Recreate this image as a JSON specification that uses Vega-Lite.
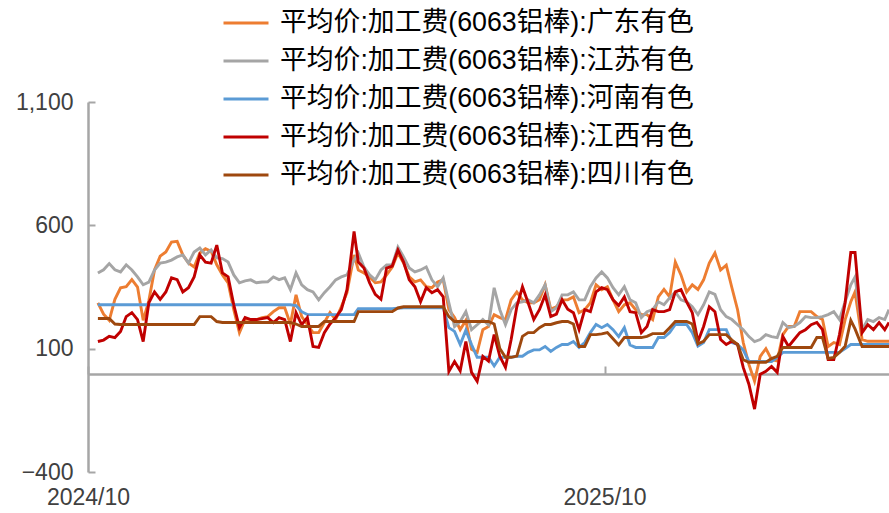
{
  "$schema": "https://vega.github.io/schema/vega-lite/v6.json",
  "width": 801,
  "height": 370,
  "autosize": {"type": "none"},
  "padding": {"left": 88, "top": 102, "right": 0, "bottom": 41},
  "background": "white",
  "config": {"view": {"stroke": null}, "font": "Liberation Sans"},
  "data": {
    "values": [
      {"d": "2024-10-08", "gd": 286, "js": 407, "hn": 278, "jx": 129, "sc": 222},
      {"d": "2024-10-12", "gd": 240, "js": 420, "hn": 278, "jx": 135, "sc": 222},
      {"d": "2024-10-16", "gd": 215, "js": 445, "hn": 278, "jx": 150, "sc": 222},
      {"d": "2024-10-20", "gd": 300, "js": 420, "hn": 278, "jx": 145, "sc": 200},
      {"d": "2024-10-24", "gd": 347, "js": 411, "hn": 278, "jx": 170, "sc": 198},
      {"d": "2024-10-28", "gd": 351, "js": 440, "hn": 278, "jx": 230, "sc": 198},
      {"d": "2024-11-01", "gd": 380, "js": 419, "hn": 278, "jx": 246, "sc": 198},
      {"d": "2024-11-05", "gd": 350, "js": 391, "hn": 278, "jx": 218, "sc": 198},
      {"d": "2024-11-09", "gd": 215, "js": 359, "hn": 278, "jx": 129, "sc": 198},
      {"d": "2024-11-13", "gd": 295, "js": 370, "hn": 278, "jx": 286, "sc": 198},
      {"d": "2024-11-17", "gd": 419, "js": 419, "hn": 278, "jx": 330, "sc": 198},
      {"d": "2024-11-21", "gd": 475, "js": 447, "hn": 278, "jx": 300, "sc": 198},
      {"d": "2024-11-25", "gd": 492, "js": 451, "hn": 278, "jx": 330, "sc": 198},
      {"d": "2024-11-29", "gd": 532, "js": 459, "hn": 278, "jx": 387, "sc": 198},
      {"d": "2024-12-03", "gd": 535, "js": 472, "hn": 278, "jx": 380, "sc": 198},
      {"d": "2024-12-07", "gd": 480, "js": 480, "hn": 278, "jx": 330, "sc": 198},
      {"d": "2024-12-11", "gd": 447, "js": 447, "hn": 278, "jx": 347, "sc": 198},
      {"d": "2024-12-15", "gd": 431, "js": 492, "hn": 278, "jx": 391, "sc": 198},
      {"d": "2024-12-19", "gd": 488, "js": 508, "hn": 278, "jx": 480, "sc": 230},
      {"d": "2024-12-23", "gd": 505, "js": 480, "hn": 278, "jx": 451, "sc": 230},
      {"d": "2024-12-27", "gd": 495, "js": 500, "hn": 278, "jx": 447, "sc": 230},
      {"d": "2024-12-31", "gd": 440, "js": 468, "hn": 278, "jx": 520, "sc": 210},
      {"d": "2025-01-04", "gd": 399, "js": 465, "hn": 278, "jx": 407, "sc": 206},
      {"d": "2025-01-08", "gd": 367, "js": 451, "hn": 278, "jx": 391, "sc": 206},
      {"d": "2025-01-12", "gd": 258, "js": 399, "hn": 278, "jx": 278, "sc": 206},
      {"d": "2025-01-16", "gd": 165, "js": 367, "hn": 278, "jx": 185, "sc": 206},
      {"d": "2025-01-20", "gd": 220, "js": 375, "hn": 278, "jx": 226, "sc": 206},
      {"d": "2025-01-24", "gd": 218, "js": 379, "hn": 278, "jx": 218, "sc": 206},
      {"d": "2025-01-28", "gd": 218, "js": 367, "hn": 278, "jx": 218, "sc": 206},
      {"d": "2025-02-01", "gd": 226, "js": 370, "hn": 278, "jx": 222, "sc": 206},
      {"d": "2025-02-05", "gd": 230, "js": 371, "hn": 278, "jx": 226, "sc": 206},
      {"d": "2025-02-09", "gd": 250, "js": 391, "hn": 278, "jx": 206, "sc": 206},
      {"d": "2025-02-13", "gd": 266, "js": 380, "hn": 278, "jx": 226, "sc": 206},
      {"d": "2025-02-17", "gd": 266, "js": 387, "hn": 278, "jx": 218, "sc": 206},
      {"d": "2025-02-21", "gd": 200, "js": 339, "hn": 278, "jx": 129, "sc": 206},
      {"d": "2025-02-25", "gd": 318, "js": 407, "hn": 275, "jx": 246, "sc": 200},
      {"d": "2025-03-01", "gd": 230, "js": 359, "hn": 250, "jx": 197, "sc": 190},
      {"d": "2025-03-05", "gd": 198, "js": 339, "hn": 238, "jx": 226, "sc": 190},
      {"d": "2025-03-09", "gd": 165, "js": 330, "hn": 238, "jx": 109, "sc": 190},
      {"d": "2025-03-13", "gd": 165, "js": 298, "hn": 238, "jx": 105, "sc": 190},
      {"d": "2025-03-17", "gd": 206, "js": 327, "hn": 238, "jx": 165, "sc": 210},
      {"d": "2025-03-21", "gd": 246, "js": 351, "hn": 238, "jx": 200, "sc": 210},
      {"d": "2025-03-25", "gd": 218, "js": 379, "hn": 238, "jx": 226, "sc": 210},
      {"d": "2025-03-29", "gd": 270, "js": 391, "hn": 238, "jx": 258, "sc": 210},
      {"d": "2025-04-02", "gd": 327, "js": 399, "hn": 238, "jx": 339, "sc": 210},
      {"d": "2025-04-07", "gd": 480, "js": 459, "hn": 238, "jx": 575, "sc": 210},
      {"d": "2025-04-10", "gd": 419, "js": 488, "hn": 262, "jx": 451, "sc": 250},
      {"d": "2025-04-14", "gd": 407, "js": 431, "hn": 262, "jx": 427, "sc": 250},
      {"d": "2025-04-18", "gd": 391, "js": 399, "hn": 262, "jx": 367, "sc": 250},
      {"d": "2025-04-22", "gd": 367, "js": 379, "hn": 262, "jx": 320, "sc": 250},
      {"d": "2025-04-26", "gd": 371, "js": 419, "hn": 262, "jx": 300, "sc": 250},
      {"d": "2025-04-30", "gd": 399, "js": 439, "hn": 262, "jx": 427, "sc": 250},
      {"d": "2025-05-04", "gd": 431, "js": 439, "hn": 262, "jx": 435, "sc": 250},
      {"d": "2025-05-08", "gd": 488, "js": 512, "hn": 264, "jx": 500, "sc": 265},
      {"d": "2025-05-12", "gd": 447, "js": 472, "hn": 266, "jx": 451, "sc": 270},
      {"d": "2025-05-16", "gd": 391, "js": 427, "hn": 266, "jx": 379, "sc": 270},
      {"d": "2025-05-20", "gd": 371, "js": 411, "hn": 266, "jx": 351, "sc": 270},
      {"d": "2025-05-24", "gd": 379, "js": 419, "hn": 266, "jx": 290, "sc": 270},
      {"d": "2025-05-28", "gd": 351, "js": 431, "hn": 266, "jx": 347, "sc": 270},
      {"d": "2025-06-01", "gd": 347, "js": 379, "hn": 266, "jx": 327, "sc": 270},
      {"d": "2025-06-05", "gd": 370, "js": 351, "hn": 266, "jx": 339, "sc": 270},
      {"d": "2025-06-09", "gd": 379, "js": 387, "hn": 266, "jx": 310, "sc": 270},
      {"d": "2025-06-13", "gd": 258, "js": 286, "hn": 185, "jx": 8, "sc": 230},
      {"d": "2025-06-17", "gd": 226, "js": 190, "hn": 170, "jx": 48, "sc": 210},
      {"d": "2025-06-21", "gd": 177, "js": 210, "hn": 117, "jx": 10, "sc": 210},
      {"d": "2025-06-25", "gd": 215, "js": 250, "hn": 175, "jx": 129, "sc": 210},
      {"d": "2025-06-29", "gd": 97, "js": 177, "hn": 117, "jx": 4, "sc": 210},
      {"d": "2025-07-03", "gd": 85, "js": 197, "hn": 65, "jx": -32, "sc": 210},
      {"d": "2025-07-07", "gd": 177, "js": 218, "hn": 65, "jx": 69, "sc": 210},
      {"d": "2025-07-11", "gd": 190, "js": 197, "hn": 65, "jx": 50, "sc": 210},
      {"d": "2025-07-15", "gd": 238, "js": 347, "hn": 30, "jx": 157, "sc": 200},
      {"d": "2025-07-19", "gd": 226, "js": 258, "hn": 65, "jx": 69, "sc": 100},
      {"d": "2025-07-23", "gd": 218, "js": 197, "hn": 65, "jx": 24, "sc": 65},
      {"d": "2025-07-27", "gd": 298, "js": 258, "hn": 65, "jx": 137, "sc": 65},
      {"d": "2025-07-31", "gd": 330, "js": 286, "hn": 69, "jx": 270, "sc": 70},
      {"d": "2025-08-04", "gd": 298, "js": 290, "hn": 69, "jx": 351, "sc": 150},
      {"d": "2025-08-08", "gd": 286, "js": 298, "hn": 85, "jx": 286, "sc": 165},
      {"d": "2025-08-12", "gd": 286, "js": 286, "hn": 95, "jx": 218, "sc": 165},
      {"d": "2025-08-16", "gd": 298, "js": 318, "hn": 95, "jx": 258, "sc": 185},
      {"d": "2025-08-20", "gd": 359, "js": 359, "hn": 109, "jx": 318, "sc": 198},
      {"d": "2025-08-24", "gd": 260, "js": 250, "hn": 89, "jx": 230, "sc": 198},
      {"d": "2025-08-28", "gd": 270, "js": 266, "hn": 105, "jx": 240, "sc": 205},
      {"d": "2025-09-01", "gd": 298, "js": 318, "hn": 117, "jx": 298, "sc": 210},
      {"d": "2025-09-05", "gd": 298, "js": 318, "hn": 117, "jx": 260, "sc": 210},
      {"d": "2025-09-09", "gd": 310, "js": 330, "hn": 129, "jx": 246, "sc": 200},
      {"d": "2025-09-13", "gd": 246, "js": 298, "hn": 105, "jx": 177, "sc": 109},
      {"d": "2025-09-17", "gd": 258, "js": 298, "hn": 125, "jx": 258, "sc": 109},
      {"d": "2025-09-21", "gd": 286, "js": 351, "hn": 165, "jx": 250, "sc": 157},
      {"d": "2025-09-25", "gd": 359, "js": 387, "hn": 198, "jx": 330, "sc": 157},
      {"d": "2025-09-29", "gd": 339, "js": 411, "hn": 185, "jx": 347, "sc": 160},
      {"d": "2025-10-03", "gd": 351, "js": 387, "hn": 198, "jx": 339, "sc": 165},
      {"d": "2025-10-07", "gd": 298, "js": 347, "hn": 177, "jx": 298, "sc": 140},
      {"d": "2025-10-11", "gd": 250, "js": 318, "hn": 149, "jx": 275, "sc": 115},
      {"d": "2025-10-15", "gd": 278, "js": 351, "hn": 185, "jx": 310, "sc": 145},
      {"d": "2025-10-19", "gd": 286, "js": 298, "hn": 115, "jx": 250, "sc": 145},
      {"d": "2025-10-23", "gd": 258, "js": 286, "hn": 105, "jx": 246, "sc": 145},
      {"d": "2025-10-27", "gd": 238, "js": 226, "hn": 105, "jx": 165, "sc": 145},
      {"d": "2025-10-31", "gd": 238, "js": 250, "hn": 105, "jx": 190, "sc": 150},
      {"d": "2025-11-04", "gd": 218, "js": 258, "hn": 105, "jx": 258, "sc": 161},
      {"d": "2025-11-08", "gd": 310, "js": 290, "hn": 145, "jx": 250, "sc": 161},
      {"d": "2025-11-12", "gd": 340, "js": 278, "hn": 145, "jx": 250, "sc": 161},
      {"d": "2025-11-16", "gd": 310, "js": 306, "hn": 165, "jx": 258, "sc": 185},
      {"d": "2025-11-20", "gd": 451, "js": 330, "hn": 198, "jx": 330, "sc": 210},
      {"d": "2025-11-24", "gd": 399, "js": 298, "hn": 198, "jx": 339, "sc": 210},
      {"d": "2025-11-28", "gd": 330, "js": 290, "hn": 198, "jx": 290, "sc": 210},
      {"d": "2025-12-02", "gd": 359, "js": 270, "hn": 165, "jx": 246, "sc": 200},
      {"d": "2025-12-06", "gd": 340, "js": 238, "hn": 110, "jx": 129, "sc": 120},
      {"d": "2025-12-10", "gd": 379, "js": 278, "hn": 125, "jx": 190, "sc": 130},
      {"d": "2025-12-14", "gd": 447, "js": 330, "hn": 177, "jx": 270, "sc": 157},
      {"d": "2025-12-18", "gd": 488, "js": 320, "hn": 177, "jx": 250, "sc": 157},
      {"d": "2025-12-22", "gd": 419, "js": 258, "hn": 177, "jx": 137, "sc": 157},
      {"d": "2025-12-26", "gd": 439, "js": 230, "hn": 177, "jx": 117, "sc": 157},
      {"d": "2025-12-30", "gd": 347, "js": 218, "hn": 125, "jx": 130, "sc": 135},
      {"d": "2026-01-03", "gd": 258, "js": 197, "hn": 117, "jx": 117, "sc": 117},
      {"d": "2026-01-07", "gd": 125, "js": 177, "hn": 95, "jx": 24, "sc": 55},
      {"d": "2026-01-11", "gd": 36, "js": 149, "hn": 48, "jx": -44, "sc": 45},
      {"d": "2026-01-15", "gd": -32, "js": 129, "hn": 48, "jx": -145, "sc": 45},
      {"d": "2026-01-19", "gd": 69, "js": 137, "hn": 48, "jx": -4, "sc": 45},
      {"d": "2026-01-23", "gd": 100, "js": 157, "hn": 48, "jx": 8, "sc": 45},
      {"d": "2026-01-27", "gd": 56, "js": 149, "hn": 48, "jx": 28, "sc": 60},
      {"d": "2026-01-31", "gd": 50, "js": 145, "hn": 65, "jx": 4, "sc": 69},
      {"d": "2026-02-04", "gd": 157, "js": 206, "hn": 85, "jx": 149, "sc": 105},
      {"d": "2026-02-08", "gd": 190, "js": 185, "hn": 85, "jx": 109, "sc": 105},
      {"d": "2026-02-12", "gd": 190, "js": 190, "hn": 85, "jx": 137, "sc": 105},
      {"d": "2026-02-16", "gd": 250, "js": 206, "hn": 85, "jx": 165, "sc": 105},
      {"d": "2026-02-20", "gd": 250, "js": 230, "hn": 85, "jx": 177, "sc": 105},
      {"d": "2026-02-24", "gd": 250, "js": 226, "hn": 85, "jx": 197, "sc": 105},
      {"d": "2026-02-28", "gd": 230, "js": 226, "hn": 85, "jx": 206, "sc": 145},
      {"d": "2026-03-04", "gd": 218, "js": 230, "hn": 85, "jx": 177, "sc": 145},
      {"d": "2026-03-08", "gd": 109, "js": 238, "hn": 85, "jx": 56, "sc": 60},
      {"d": "2026-03-12", "gd": 125, "js": 250, "hn": 85, "jx": 56, "sc": 65},
      {"d": "2026-03-16", "gd": 117, "js": 218, "hn": 85, "jx": 157, "sc": 85},
      {"d": "2026-03-20", "gd": 218, "js": 290, "hn": 100, "jx": 286, "sc": 110},
      {"d": "2026-03-24", "gd": 290, "js": 359, "hn": 117, "jx": 490, "sc": 215},
      {"d": "2026-03-27", "gd": 330, "js": 390, "hn": 117, "jx": 490, "sc": 180},
      {"d": "2026-04-01", "gd": 137, "js": 177, "hn": 117, "jx": 165, "sc": 109},
      {"d": "2026-04-05", "gd": 130, "js": 218, "hn": 117, "jx": 197, "sc": 109},
      {"d": "2026-04-09", "gd": 130, "js": 210, "hn": 117, "jx": 177, "sc": 109},
      {"d": "2026-04-13", "gd": 130, "js": 226, "hn": 117, "jx": 206, "sc": 109},
      {"d": "2026-04-17", "gd": 130, "js": 218, "hn": 117, "jx": 177, "sc": 109},
      {"d": "2026-04-20", "gd": 130, "js": 258, "hn": 117, "jx": 206, "sc": 109}
    ]
  },
  "transform": [{"fold": ["gd", "js", "hn", "jx", "sc"], "as": ["series", "value"]}],
  "mark": {"type": "line", "strokeWidth": 2.9},
  "encoding": {
    "x": {
      "field": "d",
      "type": "temporal",
      "scale": {
        "type": "utc",
        "domain": [
          {"year": 2024, "month": 10, "date": 1, "utc": true},
          {"year": 2026, "month": 4, "date": 20, "utc": true}
        ]
      },
      "axis": {
        "title": null,
        "values": [
          {"year": 2024, "month": 10, "date": 1, "utc": true},
          {"year": 2025, "month": 10, "date": 1, "utc": true}
        ],
        "labelExpr": "utcFormat(datum.value, '%Y/%m')",
        "offset": -98,
        "grid": false,
        "domainColor": "#A6A6A6",
        "domainWidth": 2.5,
        "tickColor": "#A6A6A6",
        "tickWidth": 2,
        "tickSize": -8,
        "labelPadding": 120,
        "labelFlush": false,
        "labelFont": "Liberation Sans",
        "labelFontSize": 23,
        "labelColor": "#404040"
      }
    },
    "y": {
      "field": "value",
      "type": "quantitative",
      "scale": {"domain": [-400, 1100], "nice": false, "zero": false},
      "axis": {
        "title": null,
        "values": [-400, 100, 600, 1100],
        "labelExpr": "format(datum.value, ',.0f')",
        "grid": false,
        "domainColor": "#A6A6A6",
        "domainWidth": 2.5,
        "tickColor": "#A6A6A6",
        "tickWidth": 2,
        "tickSize": -7,
        "labelPadding": 22,
        "labelFont": "Liberation Sans",
        "labelFontSize": 23,
        "labelColor": "#404040"
      }
    },
    "color": {
      "field": "series",
      "type": "nominal",
      "scale": {
        "domain": ["gd", "js", "hn", "jx", "sc"],
        "range": ["#ED7D31", "#A5A5A5", "#5B9BD5", "#C00000", "#9E480E"]
      },
      "legend": {
        "title": null,
        "orient": "none",
        "legendX": 134,
        "legendY": -103,
        "direction": "vertical",
        "padding": 0,
        "symbolType": "stroke",
        "symbolSize": 2025,
        "symbolStrokeWidth": 3,
        "labelOffset": 10,
        "rowPadding": -4,
        "labelLimit": 700,
        "labelFont": "Liberation Sans, Noto Sans CJK SC",
        "labelFontSize": 26.8,
        "labelColor": "#000000",
        "labelExpr": "{'gd': '平均价:加工费(6063铝棒):广东有色', 'js': '平均价:加工费(6063铝棒):江苏有色', 'hn': '平均价:加工费(6063铝棒):河南有色', 'jx': '平均价:加工费(6063铝棒):江西有色', 'sc': '平均价:加工费(6063铝棒):四川有色'}[datum.value]"
      }
    }
  }
}
